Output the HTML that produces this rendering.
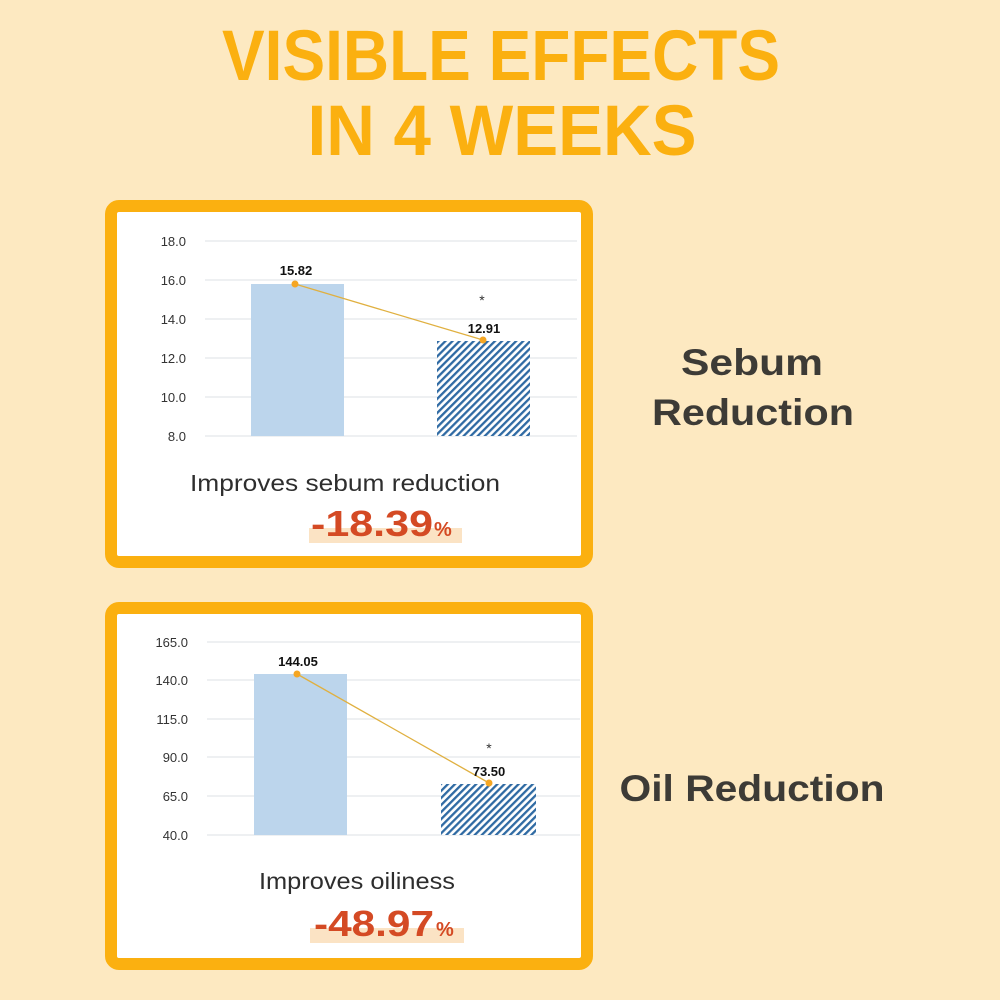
<!DOCTYPE html>
<html><head><meta charset="utf-8"><style>
html,body{margin:0;padding:0;background:#fde9c1;}
svg{display:block}
</style></head><body>
<svg width="1000" height="1000" viewBox="0 0 1000 1000" xmlns="http://www.w3.org/2000/svg" font-family="Liberation Sans, sans-serif">
<defs>
<pattern id="hatch" patternUnits="userSpaceOnUse" width="5" height="5" patternTransform="rotate(45)">
<rect width="5" height="5" fill="#ffffff"/>
<rect width="2.3" height="5" fill="#2f6aa3"/>
</pattern>
</defs>
<rect width="1000" height="1000" fill="#fde9c1"/>
<g fill="#fbb010" font-weight="bold" font-size="71" text-anchor="middle">
<text x="501" y="80" textLength="558" lengthAdjust="spacingAndGlyphs">VISIBLE EFFECTS</text>
<text x="502" y="155" textLength="389" lengthAdjust="spacingAndGlyphs">IN 4 WEEKS</text>
</g>
<g fill="#3d3b36" font-weight="bold" font-size="37" text-anchor="middle">
<text x="752" y="375" textLength="142" lengthAdjust="spacingAndGlyphs">Sebum</text>
<text x="753" y="425" textLength="202" lengthAdjust="spacingAndGlyphs">Reduction</text>
<text x="752" y="801" textLength="265" lengthAdjust="spacingAndGlyphs">Oil Reduction</text>
</g>

<!-- Box 1 -->
<rect x="111" y="206" width="476" height="356" rx="8" fill="#ffffff" stroke="#fbb010" stroke-width="12"/>
<g stroke="#e3e6ea" stroke-width="1.2">
<line x1="205" y1="241" x2="577" y2="241"/><line x1="205" y1="280" x2="577" y2="280"/>
<line x1="205" y1="319" x2="577" y2="319"/><line x1="205" y1="358" x2="577" y2="358"/>
<line x1="205" y1="397" x2="577" y2="397"/><line x1="205" y1="436" x2="577" y2="436"/>
</g>
<g fill="#333" font-size="13" text-anchor="end">
<text x="186" y="246">18.0</text><text x="186" y="285">16.0</text><text x="186" y="324">14.0</text>
<text x="186" y="363">12.0</text><text x="186" y="402">10.0</text><text x="186" y="441">8.0</text>
</g>
<rect x="251" y="284" width="93" height="152" fill="#bcd5ec"/>
<rect x="437" y="341" width="93" height="95" fill="url(#hatch)"/>
<line x1="295" y1="284" x2="483" y2="340" stroke="#e0b040" stroke-width="1.3"/>
<circle cx="295" cy="284" r="3.5" fill="#f5a623"/><circle cx="483" cy="340" r="3.5" fill="#f5a623"/>
<g fill="#111" font-size="13" font-weight="bold" text-anchor="middle">
<text x="296" y="275">15.82</text><text x="484" y="333">12.91</text>
</g>
<text x="482" y="305" font-size="14" text-anchor="middle" fill="#333">*</text>
<text x="345" y="491" font-size="23" fill="#2e2e2e" text-anchor="middle" textLength="310" lengthAdjust="spacingAndGlyphs">Improves sebum reduction</text>
<rect x="309" y="528" width="153" height="15" fill="#fbe3c4"/>
<text x="311" y="536" font-size="36" font-weight="bold" fill="#d44a24" textLength="122" lengthAdjust="spacingAndGlyphs">-18.39</text>
<text x="434" y="536" font-size="20" font-weight="bold" fill="#d44a24">%</text>

<!-- Box 2 -->
<rect x="111" y="608" width="476" height="356" rx="8" fill="#ffffff" stroke="#fbb010" stroke-width="12"/>
<g stroke="#e3e6ea" stroke-width="1.2">
<line x1="207" y1="642" x2="580" y2="642"/><line x1="207" y1="680" x2="580" y2="680"/>
<line x1="207" y1="719" x2="580" y2="719"/><line x1="207" y1="757" x2="580" y2="757"/>
<line x1="207" y1="796" x2="580" y2="796"/><line x1="207" y1="835" x2="580" y2="835"/>
</g>
<g fill="#333" font-size="13" text-anchor="end">
<text x="188" y="647">165.0</text><text x="188" y="685">140.0</text><text x="188" y="724">115.0</text>
<text x="188" y="762">90.0</text><text x="188" y="801">65.0</text><text x="188" y="840">40.0</text>
</g>
<rect x="254" y="674" width="93" height="161" fill="#bcd5ec"/>
<rect x="441" y="784" width="95" height="51" fill="url(#hatch)"/>
<line x1="297" y1="674" x2="489" y2="783" stroke="#e0b040" stroke-width="1.3"/>
<circle cx="297" cy="674" r="3.5" fill="#f5a623"/><circle cx="489" cy="783" r="3.5" fill="#f5a623"/>
<g fill="#111" font-size="13" font-weight="bold" text-anchor="middle">
<text x="298" y="666">144.05</text><text x="489" y="776">73.50</text>
</g>
<text x="489" y="753" font-size="14" text-anchor="middle" fill="#333">*</text>
<text x="357" y="889" font-size="23" fill="#2e2e2e" text-anchor="middle" textLength="196" lengthAdjust="spacingAndGlyphs">Improves oiliness</text>
<rect x="310" y="928" width="154" height="15" fill="#fbe3c4"/>
<text x="314" y="936" font-size="36" font-weight="bold" fill="#d44a24" textLength="120" lengthAdjust="spacingAndGlyphs">-48.97</text>
<text x="436" y="936" font-size="20" font-weight="bold" fill="#d44a24">%</text>
</svg>
</body></html>
